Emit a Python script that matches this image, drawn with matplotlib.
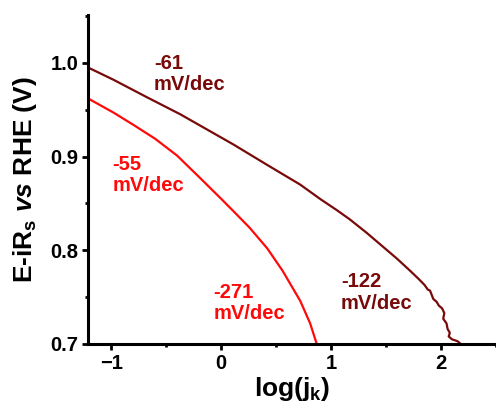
import matplotlib
matplotlib.use("Agg")
import matplotlib.pyplot as plt
from matplotlib.ticker import MultipleLocator

plt.rcParams['font.family'] = ['Liberation Sans', 'DejaVu Sans']
plt.rcParams['font.weight'] = 'bold'
plt.rcParams['mathtext.fontset'] = 'custom'
plt.rcParams['mathtext.rm'] = 'Liberation Sans:bold'
plt.rcParams['mathtext.it'] = 'Liberation Sans:bold:italic'

# dark red curve (-61 / -122 mV/dec)
dark_x = [-1.21, -0.98, -0.67, -0.37, -0.07, 0.11, 0.42, 0.72, 0.91, 1.05, 1.17, 1.32,
          1.47, 1.60, 1.72, 1.80, 1.85, 1.88, 1.90, 1.93, 1.96, 1.98, 2.01, 2.03, 2.02,
          2.05, 2.06, 2.08, 2.07, 2.10, 2.15, 2.18]
dark_y = [0.995, 0.982, 0.963, 0.945, 0.925, 0.913, 0.891, 0.870, 0.854, 0.843, 0.833, 0.819,
          0.804, 0.791, 0.778, 0.769, 0.763, 0.758, 0.757, 0.748, 0.745, 0.741, 0.738, 0.733, 0.727,
          0.722, 0.716, 0.712, 0.708, 0.705, 0.703, 0.700]

# red curve (-55 / -271 mV/dec)
red_x = [-1.21, -0.98, -0.80, -0.60, -0.40, -0.19, 0.0, 0.11, 0.26, 0.42, 0.56,
         0.72, 0.81, 0.87]
red_y = [0.962, 0.947, 0.934, 0.919, 0.901, 0.877, 0.855, 0.842, 0.824, 0.802, 0.778,
         0.746, 0.722, 0.700]

dark = '#780a0a'
red = '#ff0a0a'

fig = plt.figure(figsize=(4.96, 4.07), dpi=100)
ax = fig.add_axes([0.1774, 0.1548, 0.8226, 0.8084])

ax.plot(dark_x, dark_y, color=dark, lw=1.6)
ax.plot(red_x, red_y, color=red, lw=1.6)

kw = dict(fontsize=14.5, fontweight='bold', va='center', ha='left', linespacing=1.15)
ax.text(-0.61, 0.988, '-61\nmV/dec', color=dark, **kw)
ax.text(-0.99, 0.880, '-55\nmV/dec', color=red, **kw)
ax.text(-0.07, 0.744, '-271\nmV/dec', color=red, **kw)
ax.text(1.09, 0.755, '-122\nmV/dec', color=dark, **kw)

ax.set_xlim(-1.21, 2.5)
ax.set_ylim(0.7, 1.051)
ax.xaxis.set_major_locator(MultipleLocator(1))
ax.xaxis.set_minor_locator(MultipleLocator(0.5))
ax.yaxis.set_major_locator(MultipleLocator(0.1))
ax.yaxis.set_minor_locator(MultipleLocator(0.05))
ax.yaxis.set_major_formatter(plt.FormatStrFormatter('%.1f'))

for s in ['top', 'right']:
    ax.spines[s].set_visible(False)
for s in ['left', 'bottom']:
    ax.spines[s].set_linewidth(2.2)

ax.tick_params(which='major', direction='out', length=4, width=2, labelsize=14.5, pad=3)
ax.tick_params(which='minor', direction='out', length=2, width=2)
for lbl in ax.get_xticklabels() + ax.get_yticklabels():
    lbl.set_fontweight('bold')

ax.set_xlabel('log(j$_\\mathrm{k}$)', fontsize=19, fontweight='bold', labelpad=2)
ax.set_ylabel('E-iR$_\\mathrm{s}$ $\\it{vs}$ RHE (V)', fontsize=19, fontweight='bold', labelpad=8)

fig.savefig('out.png', dpi=100)
